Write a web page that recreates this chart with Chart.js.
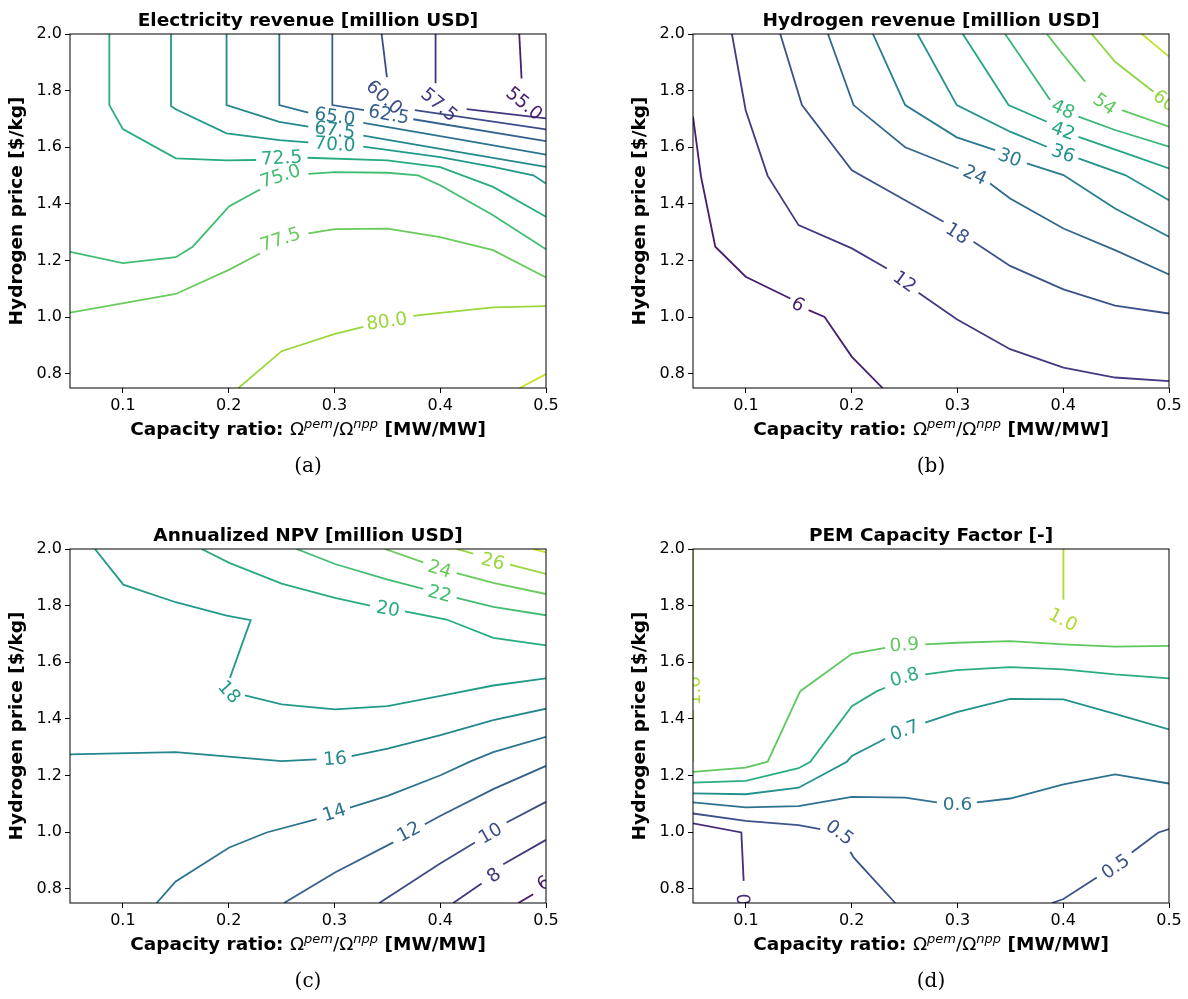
<!DOCTYPE html>
<html lang="en">
<head>
    <meta charset="UTF-8">
    <title>Contour panels</title>
    <script src="https://cdn.jsdelivr.net/npm/chart.js@4.4.0/dist/chart.umd.min.js"></script>
    <style>
        body { margin: 0; background: #fff; }
        #fig { position: relative; width: 1188px; height: 999px; overflow: hidden; }
        .panel { position: absolute; width: 565px; height: 484px; }
    </style>
</head>
<body>
<div id="fig">
    <div class="panel" style="left:0;top:0"><canvas id="elecChart" width="565" height="484"></canvas></div>
    <div class="panel" style="left:623px;top:0"><canvas id="h2Chart" width="565" height="484"></canvas></div>
    <div class="panel" style="left:0;top:515px"><canvas id="npvChart" width="565" height="484"></canvas></div>
    <div class="panel" style="left:623px;top:515px"><canvas id="cfChart" width="565" height="484"></canvas></div>
</div>
<script>
// axes
const xTickValues = [0.1, 0.2, 0.3, 0.4, 0.5];
const yTickValues = [0.8, 1.0, 1.2, 1.4, 1.6, 1.8, 2.0];

// (a) electricity revenue: one path per level, null = gap for the inline label
const elecLevels = [55, 57.5, 60, 62.5, 65, 67.5, 70, 72.5, 75, 77.5, 80, 82.5];
const elecPaths = [
    [[0.4747, 2.0], [0.4769, 1.843]],
    [[0.3956, 2.0], [0.3956, 1.826], null, [0.425, 1.735], [0.5, 1.702]],
    [[0.3446, 2.0], [0.3496, 1.848], null, [0.376, 1.731], [0.5, 1.663]],
    [[0.298, 2.0], [0.298, 1.749], [0.328, 1.731], null, [0.3745, 1.699], [0.5, 1.622]],
    [[0.2479, 2.0], [0.2479, 1.749], [0.2753, 1.722], null, [0.3273, 1.686], [0.4218, 1.625], [0.5, 1.574]],
    [[0.198, 2.0], [0.198, 1.749], [0.2479, 1.690], [0.2753, 1.673], null, [0.3273, 1.641], [0.4, 1.594], [0.5, 1.531]],
    [[0.1455, 2.0], [0.1455, 1.746], [0.15, 1.734], [0.198, 1.649], [0.2479, 1.625], [0.2753, 1.617], null,
     [0.3273, 1.602], [0.4, 1.565], [0.45, 1.531], [0.488, 1.501], [0.5, 1.472]],
    [[0.0872, 2.0], [0.0872, 1.749], [0.1, 1.664], [0.15, 1.561], [0.198, 1.554], [0.226, 1.555], null,
     [0.2745, 1.563], [0.35, 1.554], [0.4, 1.53], [0.45, 1.46], [0.5, 1.355]],
    [[0.05, 1.231], [0.1, 1.191], [0.15, 1.212], [0.166, 1.249], [0.2006, 1.392], [0.2296, 1.451], null,
     [0.2753, 1.506], [0.3005, 1.512], [0.35, 1.51], [0.3792, 1.501], [0.4, 1.466], [0.45, 1.36], [0.5, 1.24]],
    [[0.05, 1.016], [0.15, 1.082], [0.2006, 1.168], [0.2296, 1.225], null,
     [0.2753, 1.296], [0.3005, 1.311], [0.35, 1.313], [0.4, 1.283], [0.45, 1.237], [0.5, 1.14]],
    [[0.209, 0.749], [0.25, 0.88], [0.3005, 0.941], [0.3273, 0.966], null,
     [0.3745, 1.005], [0.4, 1.015], [0.45, 1.035], [0.5, 1.039]],
    [[0.4747, 0.749], [0.5, 0.799]]
];
const elecLabels = [
    [55.0, 0.480, 1.757, 40], [57.5, 0.3997, 1.753, 40], [60.0, 0.3477, 1.779, 42],
    [62.5, 0.3515, 1.719, 10], [65.0, 0.3005, 1.712, 8], [67.5, 0.3005, 1.664, 8],
    [70.0, 0.3005, 1.614, 4], [72.5, 0.25, 1.566, -3], [75.0, 0.2485, 1.502, -18],
    [77.5, 0.2485, 1.278, -18], [80.0, 0.3493, 0.989, -8]
];

// (b) hydrogen revenue
const h2Levels = [6, 12, 18, 24, 30, 36, 42, 48, 54, 60, 66];
const h2Paths = [
    [[0.05, 1.708], [0.0576, 1.496], [0.0711, 1.249], [0.0998, 1.143], [0.142, 1.066], null,
     [0.1593, 1.025], [0.1744, 1.001], [0.2002, 0.86], [0.2295, 0.749]],
    [[0.0868, 2.0], [0.0998, 1.731], [0.1206, 1.499], [0.1498, 1.325], [0.2002, 1.243], [0.2333, 1.172], null,
     [0.2632, 1.086], [0.2994, 0.993], [0.3498, 0.887], [0.4002, 0.822], [0.449, 0.787], [0.5, 0.774]],
    [[0.1325, 2.0], [0.153, 1.749], [0.2002, 1.519], [0.2506, 1.413], [0.2869, 1.337], null,
     [0.3152, 1.266], [0.3498, 1.181], [0.4002, 1.098], [0.449, 1.041], [0.5, 1.013]],
    [[0.1776, 2.0], [0.2018, 1.749], [0.2506, 1.6], [0.301, 1.525], null,
     [0.3309, 1.472], [0.3498, 1.419], [0.4002, 1.313], [0.449, 1.237], [0.5, 1.151]],
    [[0.2201, 2.0], [0.2506, 1.749], [0.2994, 1.635], [0.3357, 1.59], null,
     [0.3656, 1.543], [0.4002, 1.502], [0.449, 1.384], [0.5, 1.284]],
    [[0.2623, 2.0], [0.2994, 1.749], [0.3498, 1.655], [0.3845, 1.602], null,
     [0.4144, 1.561], [0.4585, 1.502], [0.5, 1.413]],
    [[0.3051, 2.0], [0.3483, 1.749], [0.3845, 1.69], null, [0.4144, 1.637], [0.4554, 1.584], [0.5, 1.525]],
    [[0.3451, 2.0], [0.3876, 1.767], null, [0.4144, 1.708], [0.449, 1.661], [0.5, 1.602]],
    [[0.3845, 2.0], [0.4002, 1.926], [0.4207, 1.832], null, [0.4554, 1.731], [0.5, 1.673]],
    [[0.427, 2.0], [0.449, 1.902], [0.4853, 1.796]],
    [[0.4743, 2.0], [0.5, 1.92]]
];
const h2Labels = [
    [6, 0.1498, 1.048, 30], [12, 0.2506, 1.128, 36], [18, 0.3004, 1.299, 33],
    [24, 0.3168, 1.505, 25], [30, 0.3498, 1.567, 20], [36, 0.4002, 1.582, 20],
    [42, 0.4002, 1.661, 20], [48, 0.4002, 1.737, 25], [54, 0.4396, 1.755, 35],
    [60, 0.4963, 1.767, 38]
];

// (c) annualized NPV
const npvLevels = [6, 8, 10, 12, 14, 16, 18, 20, 22, 24, 26, 28];
const npvPaths = [
    [[0.4738, 0.75], [0.4879, 0.781]],
    [[0.4123, 0.75], [0.4391, 0.819], null, [0.4596, 0.887], [0.5, 0.973]],
    [[0.3424, 0.75], [0.4003, 0.890], [0.4328, 0.964], null, [0.4627, 1.034], [0.5, 1.107]],
    [[0.2523, 0.75], [0.3005, 0.858], [0.3556, 0.964], null, [0.3855, 1.028], [0.4003, 1.058], [0.4501, 1.152], [0.5, 1.234]],
    [[0.1319, 0.75], [0.1499, 0.826], [0.2006, 0.946], [0.2359, 0.999], [0.2831, 1.046], null,
     [0.3147, 1.087], [0.3503, 1.128], [0.4003, 1.201], [0.4281, 1.249], [0.4501, 1.283], [0.5, 1.337]],
    [[0.05, 1.275], [0.1499, 1.283], [0.2501, 1.251], [0.2831, 1.257], null,
     [0.3162, 1.269], [0.3503, 1.295], [0.4003, 1.343], [0.4501, 1.396], [0.5, 1.436]],
    [[0.0736, 2.0], [0.1004, 1.874], [0.1499, 1.812], [0.1981, 1.765], [0.2208, 1.749], [0.2012, 1.545], null,
     [0.2154, 1.483], [0.2501, 1.451], [0.3005, 1.434], [0.3503, 1.445], [0.4003, 1.481], [0.4501, 1.518], [0.5, 1.543]],
    [[0.1744, 2.0], [0.2006, 1.951], [0.2501, 1.878], [0.3005, 1.827], [0.3336, 1.8], null,
     [0.3666, 1.78], [0.406, 1.751], [0.4501, 1.686], [0.5, 1.66]],
    [[0.2642, 2.0], [0.3005, 1.947], [0.3503, 1.892], [0.384, 1.859], null,
     [0.4155, 1.827], [0.4501, 1.796], [0.5, 1.766]],
    [[0.3477, 2.0], [0.384, 1.953], null, [0.4155, 1.915], [0.4501, 1.88], [0.5, 1.841]],
    [[0.4155, 2.0], [0.4312, 1.984], null, [0.4659, 1.945], [0.5, 1.912]],
    [[0.4879, 2.0], [0.5, 1.988]]
];
const npvLabels = [
    [6, 0.4974, 0.823, -35], [8, 0.4501, 0.85, -38], [10, 0.447, 0.999, -30],
    [12, 0.3698, 1.005, -28], [14, 0.2995, 1.073, -18], [16, 0.3005, 1.263, -4],
    [18, 0.2012, 1.498, 48], [20, 0.3509, 1.792, 10], [22, 0.3997, 1.845, 15],
    [24, 0.3997, 1.933, 17], [26, 0.4501, 1.959, 15]
];

// (d) PEM capacity factor (some levels have two paths)
const cfLevels = [0.4, 0.5, 0.5, 0.6, 0.7, 0.8, 0.9, 1.0, 1.0];
const cfPaths = [
    [[0.05, 1.031], [0.0957, 0.999], [0.0979, 0.828]],
    [[0.05, 1.066], [0.0998, 1.040], [0.1498, 1.025], [0.1703, 1.011], null,
     [0.1987, 0.931], [0.2018, 0.911], [0.2412, 0.75]],
    [[0.3892, 0.75], [0.4002, 0.764], [0.4317, 0.84], null, [0.4648, 0.928], [0.49, 0.999], [0.5, 1.011]],
    [[0.05, 1.105], [0.0998, 1.088], [0.1498, 1.092], [0.2002, 1.125], [0.2506, 1.122], [0.2806, 1.105], null,
     [0.3183, 1.105], [0.3498, 1.119], [0.4002, 1.169], [0.449, 1.204], [0.5, 1.172]],
    [[0.05, 1.137], [0.0998, 1.134], [0.1498, 1.157], [0.1955, 1.249], [0.2002, 1.269], [0.2317, 1.330], null,
     [0.2695, 1.387], [0.2994, 1.424], [0.3498, 1.471], [0.4002, 1.469], [0.449, 1.418], [0.5, 1.363]],
    [[0.05, 1.175], [0.0998, 1.181], [0.1498, 1.226], [0.1609, 1.249], [0.2002, 1.445], [0.2239, 1.498], [0.2317, 1.51], null,
     [0.2695, 1.557], [0.2994, 1.572], [0.3498, 1.583], [0.4002, 1.575], [0.449, 1.557], [0.5, 1.543]],
    [[0.05, 1.213], [0.0998, 1.228], [0.1206, 1.249], [0.1514, 1.498], [0.2002, 1.630], [0.2317, 1.651], null,
     [0.2695, 1.663], [0.2994, 1.669], [0.3498, 1.675], [0.4002, 1.663], [0.449, 1.655], [0.5, 1.658]],
    [[0.4002, 2.0], [0.4002, 1.821]],
    [[0.05, 1.25], [0.05, 1.43], null, [0.05, 1.57], [0.05, 2.0]]
];
const cfLabels = [
    [0.4, 0.0982, 0.732, 88], [0.5, 0.1892, 1.002, 37], [0.5, 0.449, 0.881, -35],
    [0.6, 0.3001, 1.102, 0], [0.7, 0.2497, 1.363, -20], [0.8, 0.2497, 1.551, -15],
    [0.9, 0.2497, 1.665, -4], [1.0, 0.4002, 1.753, 28], [1.0, 0.05, 1.50, -90]
];

const FONT = '"DejaVu Sans"';
const VIRIDIS = ['#440154', '#482475', '#414487', '#355f8d', '#2a788e', '#21918c',
                 '#22a884', '#44bf70', '#7ad151', '#bddf26', '#fde725'];

function viridis(t) {
    t = Math.min(1, Math.max(0, t)) * (VIRIDIS.length - 1);
    const i = Math.min(Math.floor(t), VIRIDIS.length - 2);
    const f = t - i;
    const a = VIRIDIS[i], b = VIRIDIS[i + 1];
    const ch = k => Math.round(parseInt(a.substr(k, 2), 16) * (1 - f) + parseInt(b.substr(k, 2), 16) * f);
    return `rgb(${ch(1)},${ch(3)},${ch(5)})`;
}

function buildSets(levels, paths, vmin, vmax) {
    const sets = [];
    paths.forEach((path, i) => {
        const color = viridis((levels[i] - vmin) / (vmax - vmin));
        let seg = [];
        const flush = () => {
            if (seg.length > 1) {
                sets.push({ data: seg, showLine: true, borderColor: color, borderWidth: 1.8,
                            pointRadius: 0, pointHoverRadius: 0, fill: false, tension: 0 });
            }
            seg = [];
        };
        path.forEach(p => { if (p === null) flush(); else seg.push({ x: p[0], y: p[1] }); });
        flush();
    });
    return sets;
}

function textPlugin(cfg) {
    return {
        id: 'panelText',
        afterDatasetsDraw(chart) {
            const { ctx, chartArea: a, scales: { x, y } } = chart;
            ctx.save();
            ctx.beginPath();
            ctx.rect(a.left, a.top, a.right - a.left, a.bottom - a.top);
            ctx.clip();
            ctx.font = '18.5px ' + FONT;
            ctx.textAlign = 'center';
            ctx.textBaseline = 'alphabetic';
            cfg.labels.forEach(([v, lx, ly, rot]) => {
                ctx.save();
                ctx.translate(x.getPixelForValue(lx), y.getPixelForValue(ly));
                ctx.rotate(rot * Math.PI / 180);
                ctx.fillStyle = viridis((v - cfg.vmin) / (cfg.vmax - cfg.vmin));
                ctx.fillText(v.toFixed(cfg.digits), 0, 6.7);
                ctx.restore();
            });
            ctx.restore();

            ctx.save();
            ctx.strokeStyle = '#000';
            ctx.lineWidth = 1;
            ctx.strokeRect(a.left, a.top, a.right - a.left, a.bottom - a.top);
            ctx.restore();
        },
        afterDraw(chart) {
            const { ctx, chartArea: a } = chart;
            const cx = (a.left + a.right) / 2;
            ctx.save();
            ctx.fillStyle = '#000';
            ctx.textBaseline = 'alphabetic';

            // title
            ctx.textAlign = 'center';
            ctx.font = 'bold 18.5px ' + FONT;
            ctx.fillText(cfg.title, cx, a.top - 8);

            // y axis label
            ctx.save();
            ctx.translate(a.left - 48, (a.top + a.bottom) / 2);
            ctx.rotate(-Math.PI / 2);
            ctx.font = 'bold 18.5px ' + FONT;
            ctx.fillText('Hydrogen price [$/kg]', 0, 0);
            ctx.restore();

            // x axis label with superscripts
            const parts = [
                ['Capacity ratio: ', 'bold 18.5px ' + FONT, 0],
                ['Ω', '18.5px ' + FONT, 0],
                ['pem', 'italic 13px ' + FONT, -7],
                ['/Ω', '18.5px ' + FONT, 0],
                ['npp', 'italic 13px ' + FONT, -7],
                [' [MW/MW]', 'bold 18.5px ' + FONT, 0]
            ];
            let total = 0;
            parts.forEach(p => { ctx.font = p[1]; total += ctx.measureText(p[0]).width; });
            let px = cx - total / 2;
            const base = a.bottom + 47;
            ctx.textAlign = 'left';
            parts.forEach(p => {
                ctx.font = p[1];
                ctx.fillText(p[0], px, base + p[2]);
                px += ctx.measureText(p[0]).width;
            });

            // caption
            ctx.textAlign = 'center';
            ctx.font = '20px "DejaVu Serif"';
            ctx.fillText(cfg.caption, cx, a.bottom + 84);
            ctx.restore();
        }
    };
}

function makePanel(id, cfg) {
    const tickFont = { family: 'DejaVu Sans', size: 16 };
    return new Chart(document.getElementById(id), {
        type: 'scatter',
        data: { datasets: buildSets(cfg.levels, cfg.paths, cfg.vmin, cfg.vmax) },
        options: {
            responsive: false,
            animation: false,
            devicePixelRatio: 1,
            events: [],
            layout: { padding: { left: 0, top: 34, right: 19, bottom: 0 } },
            plugins: { legend: { display: false }, tooltip: { enabled: false } },
            scales: {
                x: {
                    type: 'linear', min: 0.05, max: 0.5,
                    afterBuildTicks: s => { s.ticks = xTickValues.map(v => ({ value: v })); },
                    afterFit: s => { s.height = 96; },
                    ticks: { callback: v => v.toFixed(1), font: tickFont, color: '#000',
                             padding: 3, maxRotation: 0, autoSkip: false },
                    grid: { display: true, drawOnChartArea: false, drawTicks: true, tickLength: 5, color: '#000' },
                    border: { display: false }
                },
                y: {
                    type: 'linear', min: 0.75, max: 2.0,
                    afterBuildTicks: s => { s.ticks = yTickValues.map(v => ({ value: v })); },
                    afterFit: s => { s.width = 70; },
                    ticks: { callback: v => v.toFixed(1), font: tickFont, color: '#000',
                             padding: 3, autoSkip: false },
                    grid: { display: true, drawOnChartArea: false, drawTicks: true, tickLength: 5, color: '#000' },
                    border: { display: false }
                }
            }
        },
        plugins: [textPlugin(cfg)]
    });
}

makePanel('elecChart', { title: 'Electricity revenue [million USD]', caption: '(a)',
    levels: elecLevels, paths: elecPaths, labels: elecLabels, vmin: 52.5, vmax: 85, digits: 1 });
makePanel('h2Chart', { title: 'Hydrogen revenue [million USD]', caption: '(b)',
    levels: h2Levels, paths: h2Paths, labels: h2Labels, vmin: 0, vmax: 72, digits: 0 });
makePanel('npvChart', { title: 'Annualized NPV [million USD]', caption: '(c)',
    levels: npvLevels, paths: npvPaths, labels: npvLabels, vmin: 4, vmax: 30, digits: 0 });
makePanel('cfChart', { title: 'PEM Capacity Factor [-]', caption: '(d)',
    levels: cfLevels, paths: cfPaths, labels: cfLabels, vmin: 0.3, vmax: 1.1, digits: 1 });
</script>
</body>
</html>
